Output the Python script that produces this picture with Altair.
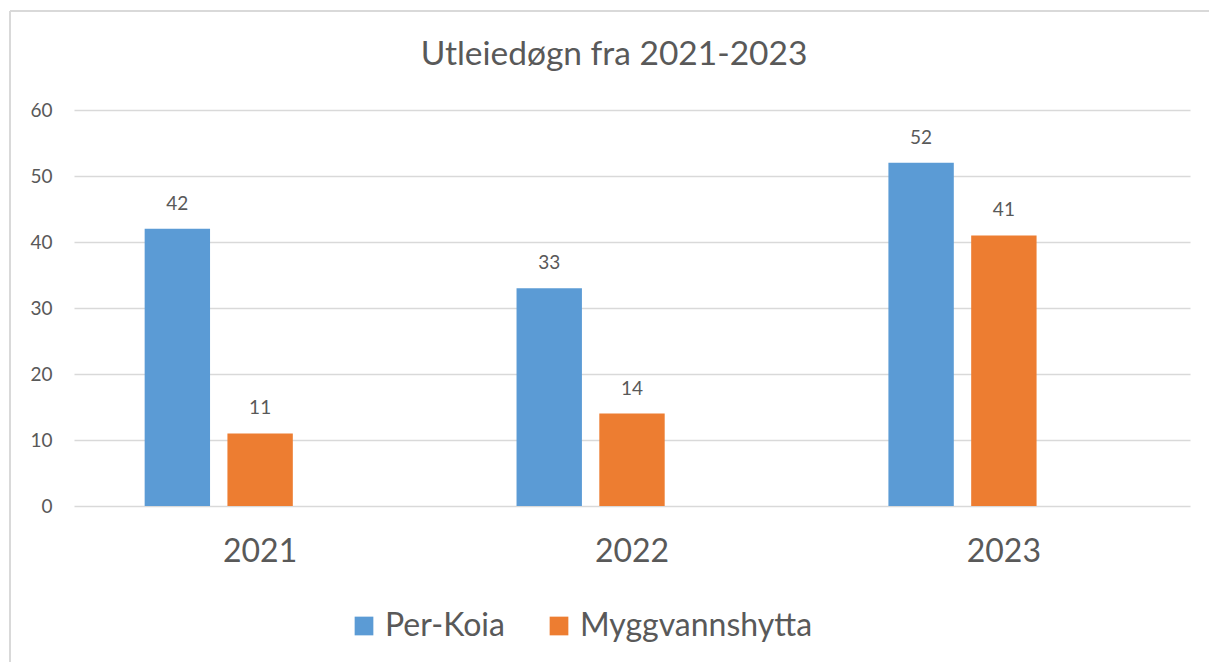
import altair as alt
import pandas as pd

years = ["2021", "2022", "2023"]
series = ["Per-Koia", "Myggvannshytta"]
per_koia = [42, 33, 52]
myggvann = [11, 14, 41]
colors = ["#5B9BD5", "#ED7D31"]
y_ticks = [0, 10, 20, 30, 40, 50, 60]
title_text = "Utleiedøgn fra 2021-2023"

rows = []
for i, y in enumerate(years):
    rows.append({"year": y, "series": series[0], "value": per_koia[i]})
    rows.append({"year": y, "series": series[1], "value": myggvann[i]})
df = pd.DataFrame(rows)

FONT = "Lato"
GRAY = "#595959"

x_enc = alt.X("year:N", sort=years, title=None,
              scale=alt.Scale(paddingInner=0.379, paddingOuter=0.19),
              axis=alt.Axis(labelFontSize=32, labelColor=GRAY, labelFont=FONT,
                            ticks=False, domain=False, labelPadding=30, labelAngle=0,
                            grid=False))
xoff = alt.XOffset("series:N", scale=alt.Scale(domain=series + ["_"], paddingInner=0.21, paddingOuter=0))
y_enc = alt.Y("value:Q", title=None,
              scale=alt.Scale(domain=[0, 60], nice=False),
              axis=alt.Axis(values=y_ticks, labelFontSize=19, labelColor=GRAY, labelFont=FONT,
                            ticks=False, domain=False, labelPadding=22,
                            gridColor="#D9D9D9", gridWidth=1.5))

base = alt.Chart(df)

bars = base.mark_bar().encode(
    x=x_enc, xOffset=xoff, y=y_enc,
    color=alt.Color("series:N", scale=alt.Scale(domain=series, range=colors),
                    legend=alt.Legend(title=None, orient="none", direction="horizontal",
                                      legendX=274, legendY=500,
                                      symbolType="square", symbolSize=350,
                                      symbolStrokeWidth=0, symbolOpacity=1,
                                      labelFontSize=32, labelFont=FONT, labelColor=GRAY,
                                      labelLimit=500, labelOffset=5, columnPadding=38)),
)

labels = base.mark_text(baseline="bottom", dy=-15, fontSize=19, font=FONT, color=GRAY).encode(
    x=x_enc, xOffset=xoff, y=y_enc, text="value:Q"
)

title = alt.Chart(pd.DataFrame({"t": [title_text]})).mark_text(
    font=FONT, fontSize=33.5, color=GRAY, align="center", baseline="middle"
).encode(x=alt.value(540), y=alt.value(-55), text="t:N")

border_v = alt.Chart(df).mark_rule(color="#D9D9D9", strokeWidth=2, clip=False).encode(
    x=alt.value(-64), y=alt.value(-99), y2=alt.value(560)
)
border_h = alt.Chart(df).mark_rule(color="#D9D9D9", strokeWidth=2, clip=False).encode(
    x=alt.value(-64), x2=alt.value(1140), y=alt.value(-99)
)

chart = alt.layer(border_v, border_h, bars, labels, title).properties(
    width=1116, height=396,
    background="white",
    autosize=alt.AutoSizeParams(type="none"),
    padding={"left": 74, "top": 110, "right": 19, "bottom": 156},
).configure_view(strokeWidth=0)

chart.save("out.html", embed_options={"renderer": "svg", "actions": False})
